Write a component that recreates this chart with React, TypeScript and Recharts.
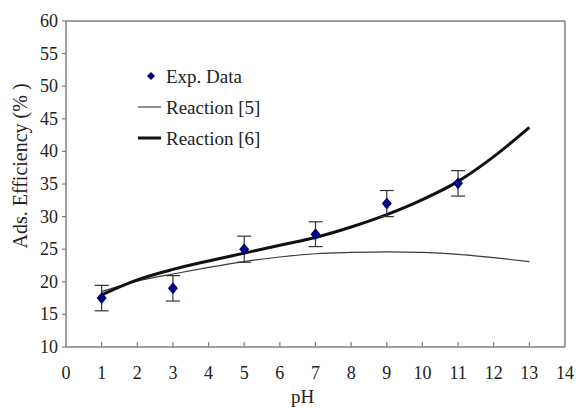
import React from 'react';
import {
  ComposedChart, Line, Scatter, ErrorBar, XAxis, YAxis, ReferenceLine,
} from 'recharts';

// model curves (pH 1..13)
const modelPh = [1, 2, 3, 4, 5, 6, 7, 8, 9, 10, 11, 12, 13];
const reaction5 = [18.5, 20.1, 21.2, 22.2, 23.1, 23.8, 24.3, 24.5, 24.6, 24.5, 24.2, 23.7, 23.1];
const reaction6 = [18.0, 20.3, 21.9, 23.2, 24.4, 25.6, 26.8, 28.4, 30.3, 32.6, 35.4, 39.2, 43.7];

// experimental points
const expPh = [1, 3, 5, 7, 9, 11];
const expValues = [17.5, 19.0, 25.0, 27.3, 32.0, 35.1];
const expErr = [1.95, 1.95, 2.0, 1.9, 2.0, 1.95];

const xTicks = [0, 1, 2, 3, 4, 5, 6, 7, 8, 9, 10, 11, 12, 13, 14];
const yTicks = [10, 15, 20, 25, 30, 35, 40, 45, 50, 55, 60];

const modelRows = modelPh.map((ph, i) => ({ ph, r5: reaction5[i], r6: reaction6[i] }));
const expRows = expPh.map((ph, i) => ({ ph, exp: expValues[i], err: expErr[i] }));

const FONT = "'Liberation Serif', 'Times New Roman', serif";
const AXIS = '#808080';
const TEXT = '#222';
const textStyle = { fontFamily: FONT };

const XTick = (props: any) => {
  const { x, y, payload } = props;
  const v = payload.value;
  return (
    <g>
      {v > 0 && v < 14 && (
        <line x1={x} y1={y} x2={x} y2={y - 5} stroke={AXIS} strokeWidth={1.2} />
      )}
      <text x={x} y={y + 32} textAnchor="middle" fontSize={18} style={textStyle} fill={TEXT}>
        {v}
      </text>
    </g>
  );
};

const YTick = (props: any) => {
  const { x, y, payload } = props;
  return (
    <text x={x} y={y} dy={6} textAnchor="end" fontSize={18} style={textStyle} fill={TEXT}>
      {payload.value}
    </text>
  );
};

const Diamond = (p: any) => {
  const { cx, cy } = p;
  if (cx == null || cy == null) return null;
  return (
    <polygon
      points={`${cx},${cy - 6} ${cx + 5},${cy} ${cx},${cy + 6} ${cx - 5},${cy}`}
      fill="#000080"
    />
  );
};

const YTitle = (props: any) => {
  const { viewBox } = props;
  const cx = viewBox.x + 20;
  const cy = viewBox.y + viewBox.height / 2 - 18;
  return (
    <text
      x={cx}
      y={cy}
      transform={`rotate(-90, ${cx}, ${cy})`}
      textAnchor="middle"
      dominantBaseline="central"
      fontSize={20}
      style={textStyle}
      fill={TEXT}
    >
      Ads. Efficiency (% )
    </text>
  );
};

const XTitle = (props: any) => {
  const { viewBox } = props;
  return (
    <text
      x={viewBox.x + viewBox.width / 2 - 13}
      y={viewBox.y + 56}
      textAnchor="middle"
      fontSize={19}
      style={textStyle}
      fill={TEXT}
    >
      pH
    </text>
  );
};

const legendText = { fontSize: 19, fontFamily: FONT, fill: TEXT };

const LegendBox = () => (
  <svg
    width={200}
    height={100}
    style={{ position: 'absolute', left: 130, top: 60, overflow: 'visible' }}
  >
    <polygon points="21,12 25,16 21,20 17,16" fill="#000080" />
    <text x={36} y={16} dominantBaseline="central" style={legendText}>
      Exp. Data
    </text>
    <line x1={8} y1={47} x2={31} y2={47} stroke="#444" strokeWidth={1.2} />
    <text x={36} y={47} dominantBaseline="central" style={legendText}>
      Reaction [5]
    </text>
    <line x1={8} y1={78} x2={31} y2={78} stroke="#111" strokeWidth={3} />
    <text x={36} y={78} dominantBaseline="central" style={legendText}>
      Reaction [6]
    </text>
  </svg>
);

export default function App() {
  return (
    <div style={{ position: 'absolute', left: 0, top: 0, width: 576, height: 408, background: '#fff' }}>
      <ComposedChart
        width={576}
        height={408}
        data={modelRows}
        margin={{ top: 21, right: 11, bottom: 0, left: 0 }}
      >
        <XAxis
          type="number"
          dataKey="ph"
          domain={[0, 14]}
          ticks={xTicks}
          interval={0}
          height={61}
          axisLine={{ stroke: AXIS, strokeWidth: 1.5 }}
          tickLine={false}
          tickSize={0}
          tickMargin={0}
          tick={<XTick />}
          label={<XTitle />}
        />
        <YAxis
          type="number"
          domain={[10, 60]}
          ticks={yTicks}
          interval={0}
          width={66}
          axisLine={{ stroke: AXIS, strokeWidth: 1.5 }}
          tickLine={{ stroke: AXIS, strokeWidth: 1.2 }}
          tickSize={4}
          tickMargin={4}
          tick={<YTick />}
          label={<YTitle />}
        />
        <ReferenceLine y={60} stroke={AXIS} strokeWidth={1.5} />
        <ReferenceLine x={14} stroke={AXIS} strokeWidth={1.5} />
        <Line
          type="monotone"
          dataKey="r5"
          stroke="#3a3a3a"
          strokeWidth={1.2}
          dot={false}
          isAnimationActive={false}
        />
        <Line
          type="monotone"
          dataKey="r6"
          stroke="#111"
          strokeWidth={3}
          dot={false}
          isAnimationActive={false}
        />
        <Scatter data={expRows} dataKey="exp" shape={<Diamond />} isAnimationActive={false}>
          <ErrorBar dataKey="err" direction="y" width={7} stroke="#333" strokeWidth={1.2} />
        </Scatter>
      </ComposedChart>
      <LegendBox />
    </div>
  );
}
